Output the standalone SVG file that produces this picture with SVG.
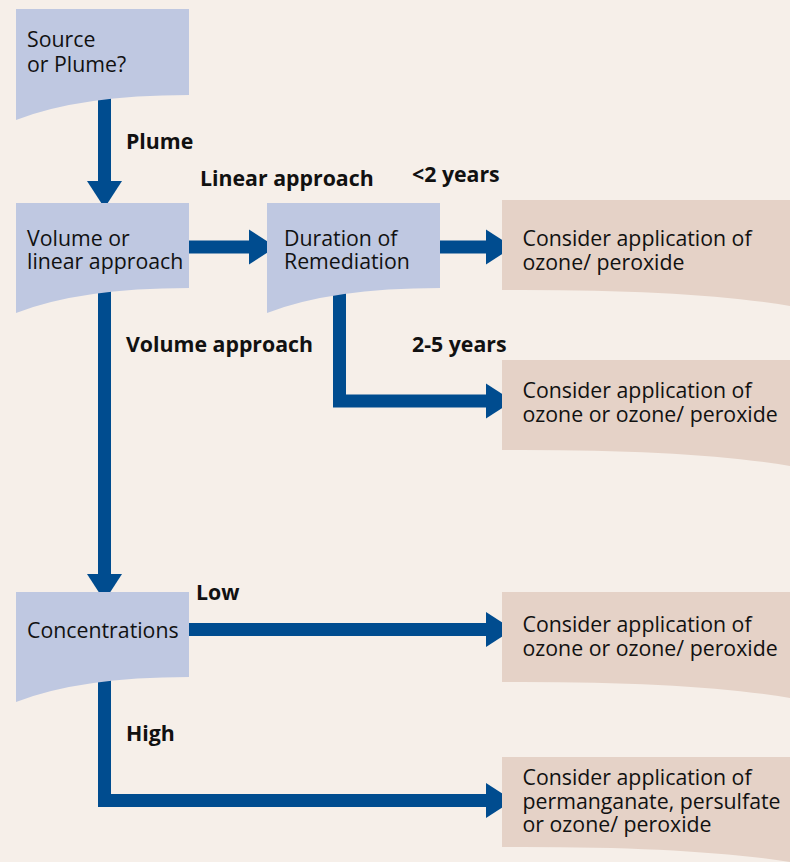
<svg xmlns="http://www.w3.org/2000/svg" width="790" height="862" viewBox="0 0 790 862">
<defs>
<style>
.bg{fill:#f6efe9}
.q{fill:#bfc8e1}
.r{fill:#e5d2c7}
.t{font-family:"Open Sans","Liberation Sans",sans-serif;font-size:21.3px;fill:#111}
.b{font-family:"Open Sans","Liberation Sans",sans-serif;font-size:21.3px;font-weight:bold;fill:#111}
.c{fill:none;stroke:#004c8f;stroke-width:13;stroke-linejoin:miter;stroke-linecap:butt}
</style>
<marker id="ah" viewBox="0 -18 28 36" markerWidth="28" markerHeight="36" refX="0" refY="0" markerUnits="userSpaceOnUse" orient="auto">
<path d="M0,-17.5 L27,0 L0,17.5 z" fill="#004c8f"/>
</marker>
</defs>
<rect class="bg" x="0" y="0" width="790" height="862"/>

<g id="connectors">
<path class="c" d="M104.5,95 V181" marker-end="url(#ah)"/>
<path class="c" d="M189,247 H249" marker-end="url(#ah)"/>
<path class="c" d="M440,247 H486" marker-end="url(#ah)"/>
<path class="c" d="M339.5,290 V401 H486" marker-end="url(#ah)"/>
<path class="c" d="M104.5,288 V574" marker-end="url(#ah)"/>
<path class="c" d="M189,629.5 H486" marker-end="url(#ah)"/>
<path class="c" d="M104.5,677 V800.5 H486" marker-end="url(#ah)"/>
</g>

<g id="source">
<path class="q" d="M16,9 H189 V95 Q80,95 16,120 Z"/>
<text class="t" x="27" y="47">Source</text>
<text class="t" x="27" y="71.5">or Plume?</text>
</g>

<g id="volume">
<path class="q" d="M16,203 H189 V288 Q80,288 16,313 Z"/>
<text class="t" x="27" y="245.5">Volume or</text>
<text class="t" x="27" y="269">linear approach</text>
</g>

<g id="duration">
<path class="q" d="M267,203 H440 V288 Q331,288 267,313 Z"/>
<text class="t" x="284" y="245.5">Duration of</text>
<text class="t" x="284" y="269">Remediation</text>
</g>

<g id="concentrations">
<path class="q" d="M16,592 H189 V677 Q80,677 16,702 Z"/>
<text class="t" x="27" y="638">Concentrations</text>
</g>

<g id="result1">
<path class="r" d="M502,200 H790 V306 Q690,289 502,290 Z"/>
<text class="t" x="522.5" y="246">Consider application of</text>
<text class="t" x="522.5" y="269.5">ozone/ peroxide</text>
</g>

<g id="result2">
<path class="r" d="M502,360 H790 V466 Q690,449 502,450 Z"/>
<text class="t" x="522.5" y="398">Consider application of</text>
<text class="t" x="522.5" y="422">ozone or ozone/ peroxide</text>
</g>

<g id="result3">
<path class="r" d="M502,592 H790 V698 Q690,681 502,682 Z"/>
<text class="t" x="522.5" y="632">Consider application of</text>
<text class="t" x="522.5" y="656">ozone or ozone/ peroxide</text>
</g>

<g id="result4">
<path class="r" d="M502,757 H790 V862 Q690,846 502,847 Z"/>
<text class="t" x="522.5" y="785">Consider application of</text>
<text class="t" x="522.5" y="808.5">permanganate, persulfate</text>
<text class="t" x="522.5" y="832">or ozone/ peroxide</text>
</g>

<g id="labels">
<text class="b" x="126" y="149">Plume</text>
<text class="b" x="200" y="186">Linear approach</text>
<text class="b" x="412" y="182">&lt;2 years</text>
<text class="b" x="126" y="352">Volume approach</text>
<text class="b" x="412" y="352">2-5 years</text>
<text class="b" x="196" y="600">Low</text>
<text class="b" x="126" y="741">High</text>
</g>
</svg>
